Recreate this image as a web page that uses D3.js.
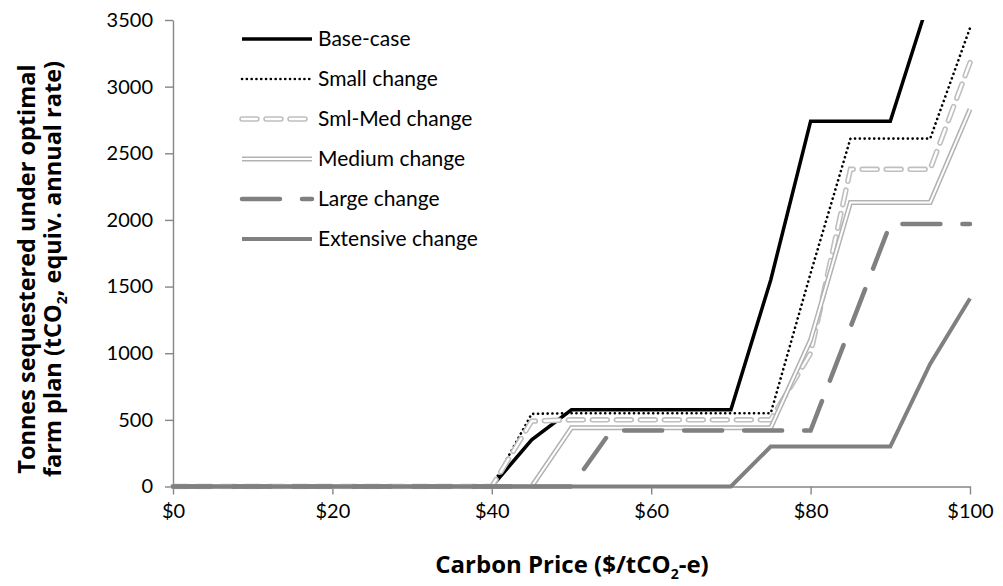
<!DOCTYPE html>
<html>
<head>
<meta charset="utf-8">
<script src="https://cdn.jsdelivr.net/npm/d3@7"></script>
<style>
  body { margin: 0; background: #fff; }
  svg { font-family: Lato, "Open Sans", sans-serif; }
</style>
</head>
<body>
<svg id="chart"></svg>
<script>
// carbon price ($/tCO2-e), one point every $5
const prices = [0, 5, 10, 15, 20, 25, 30, 35, 40, 45, 50, 55, 60, 65, 70, 75, 80, 85, 90, 95, 100];

const baseCase  = [0, 0, 0, 0, 0, 0, 0, 0, 0, 350, 575, 575, 575, 575, 575, 1550, 2740, 2740, 2740, 3680, 4400];
const smallChg  = [0, 0, 0, 0, 0, 0, 0, 0, 0, 545, 550, 550, 550, 550, 550, 550, 1600, 2610, 2610, 2610, 3440];
const smlMedChg = [0, 0, 0, 0, 0, 0, 0, 0, 0, 490, 500, 500, 500, 500, 500, 500, 1000, 2380, 2380, 2380, 3180];
const mediumChg = [0, 0, 0, 0, 0, 0, 0, 0, 0, 0, 440, 440, 440, 440, 440, 440, 1100, 2130, 2130, 2130, 2830];
const largeChg  = [0, 0, 0, 0, 0, 0, 0, 0, 0, 0, 0, 420, 420, 420, 420, 420, 420, 1195, 1970, 1970, 1970];
const extChg    = [0, 0, 0, 0, 0, 0, 0, 0, 0, 0, 0, 0, 0, 0, 0, 300, 300, 300, 300, 920, 1410];

const seriesNames = ["Base-case", "Small change", "Sml-Med change", "Medium change", "Large change", "Extensive change"];
const seriesValues = [baseCase, smallChg, smlMedChg, mediumChg, largeChg, extChg];

const xTicks = [0, 20, 40, 60, 80, 100];
const yTicks = [0, 500, 1000, 1500, 2000, 2500, 3000, 3500];

// line looks, one per series
const styles = [
  {color: "#000000", width: 3.5, dash: null},
  {color: "#000000", width: 2.6, dash: "0.1 4.7", cap: "round"},
  {color: "#bfbfbf", width: 5.5, dash: "15 9", cap: "round", inner: 2.3},
  {color: "#b2b2b2", width: 5, dash: null, inner: 2},
  {color: "#808080", width: 4.5, dash: "38 22", cap: "round"},
  {color: "#808080", width: 4, dash: null}
];

const width = 1003, height = 586;
const margin = {top: 20, right: 33, bottom: 99.5, left: 173};

const svg = d3.select("#chart").attr("width", width).attr("height", height);

const x = d3.scaleLinear().domain([0, 100]).range([margin.left, width - margin.right]);
const y = d3.scaleLinear().domain([0, 3500]).range([height - margin.bottom, margin.top]);

svg.append("clipPath").attr("id", "plot-clip")
  .append("rect")
  .attr("x", margin.left - 3).attr("y", margin.top)
  .attr("width", width - margin.left - margin.right + 6)
  .attr("height", height - margin.top - margin.bottom + 3);

// axes
const yAxis = svg.append("g")
  .attr("transform", `translate(${margin.left},0)`)
  .call(d3.axisLeft(y).tickValues(yTicks).tickSizeInner(8).tickSizeOuter(0).tickPadding(12)
    .tickFormat(d3.format("d")));

const xAxis = svg.append("g")
  .attr("transform", `translate(0,${height - margin.bottom})`)
  .call(d3.axisBottom(x).tickValues(xTicks).tickSizeInner(8).tickSizeOuter(0).tickPadding(9)
    .tickFormat(d => "$" + d));

[xAxis, yAxis].forEach(ax => {
  ax.selectAll("path, line").attr("stroke", "#868686").attr("stroke-width", 1.4);
  ax.selectAll("text").attr("fill", "#000").attr("font-size", 20).attr("font-family", "Lato");
});

// lines
const line = d3.line()
  .x((d, i) => x(prices[i]))
  .y(d => y(d));

const lines = svg.append("g").attr("clip-path", "url(#plot-clip)");

seriesValues.forEach((vals, i) => {
  const s = styles[i];
  lines.append("path")
    .attr("d", line(vals))
    .attr("fill", "none")
    .attr("stroke", s.color)
    .attr("stroke-width", s.width)
    .attr("stroke-dasharray", s.dash)
    .attr("stroke-linecap", s.cap || "butt")
    .attr("stroke-linejoin", "miter");
  if (s.inner) {
    lines.append("path")
      .attr("d", line(vals))
      .attr("fill", "none")
      .attr("stroke", "#fff")
      .attr("stroke-width", s.inner)
      .attr("stroke-dasharray", s.dash)
      .attr("stroke-linecap", s.cap || "butt");
  }
});

// legend
const legend = svg.append("g");
seriesNames.forEach((name, i) => {
  const s = styles[i];
  const ly = 39 + i * 40;
  const row = legend.append("g");
  const seg = [[242, ly], [312, ly]];
  row.append("path")
    .attr("d", d3.line()(seg))
    .attr("stroke", s.color)
    .attr("stroke-width", s.width)
    .attr("stroke-dasharray", s.dash)
    .attr("stroke-linecap", s.cap || "butt");
  if (s.inner) {
    row.append("path")
      .attr("d", d3.line()(seg))
      .attr("stroke", "#fff")
      .attr("stroke-width", s.inner)
      .attr("stroke-dasharray", s.dash)
      .attr("stroke-linecap", s.cap || "butt");
  }
  row.append("text")
    .attr("x", 318).attr("y", ly)
    .attr("dy", "0.35em")
    .attr("font-size", 21)
    .text(name);
});

// axis titles
const xTitle = svg.append("text")
  .attr("x", 572)
  .attr("y", 573)
  .attr("text-anchor", "middle")
  .attr("font-family", "Open Sans")
  .attr("font-size", 24)
  .attr("font-weight", "bold");
xTitle.append("tspan").text("Carbon Price ($/tCO");
xTitle.append("tspan").attr("font-size", 14).attr("dy", 6).text("2");
xTitle.append("tspan").attr("dy", -6).text("-e)");

const yTitle = svg.append("g")
  .attr("transform", "translate(0,269) rotate(-90)")
  .attr("font-family", "Open Sans")
  .attr("font-size", 23.5)
  .attr("font-weight", "bold")
  .attr("text-anchor", "middle");
yTitle.append("text").attr("x", 0).attr("y", 35).text("Tonnes sequestered under optimal");
const t2 = yTitle.append("text").attr("x", 0).attr("y", 61);
t2.append("tspan").text("farm plan (tCO");
t2.append("tspan").attr("font-size", 14).attr("dy", 6).text("2");
t2.append("tspan").attr("dy", -6).text(", equiv. annual rate)");
</script>
</body>
</html>
